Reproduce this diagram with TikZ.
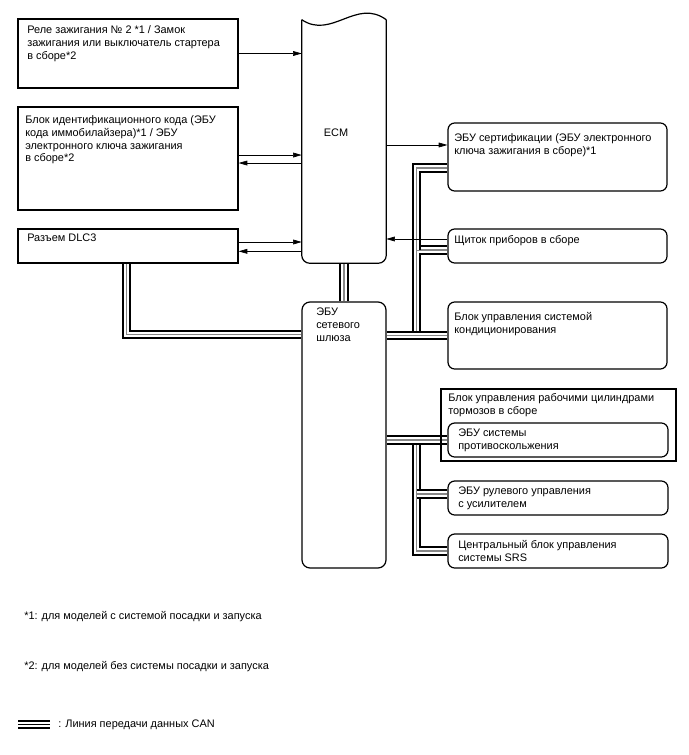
\documentclass[tikz,border=0pt]{standalone}
\usepackage{fontspec}
\setmainfont{Liberation Sans}
\usepackage{tikz}
\usetikzlibrary{arrows.meta, positioning, fit, calc, backgrounds}
\definecolor{canGray}{RGB}{135,135,135}

\begin{document}
\begin{tikzpicture}[
    font=\fontsize{8.2}{9.7}\selectfont, x=0.75pt, y=-0.75pt,
    sqbox/.style={draw, line width=0.9pt, inner sep=0pt},
    rbox/.style={sqbox, rounded corners=5pt},
    txt/.style={anchor=north west, align=left, inner sep=0pt},
    sig/.style={line width=0.5pt, -{Triangle[length=6.5pt, width=3.6pt]}},
    can/.style={draw=canGray, line width=1pt,
                preaction={draw=black, line width=7pt},
                preaction={draw=white, line width=4pt}},
    canKey/.style={can, draw=black, line width=1.2pt}
]
\useasboundingbox (0,0) rectangle (688,755);

% left column
\node[sqbox, fit={(18,19) (238,88)}] (relay) {};
\node[txt] (relayT) at (27,25) {Реле зажигания № 2 *1 / Замок\\зажигания или выключатель стартера\\в сборе*2};
\node[sqbox, fit={(18,107) (238,210)}] (immo) {};
\node[txt] (immoT) at (25,115) {Блок идентификационного кода (ЭБУ\\кода иммобилайзера)*1 / ЭБУ\\электронного ключа зажигания\\в сборе*2};
\node[sqbox, fit={(18,229) (238,263)}] (dlc) {};
\node[txt] (dlcT) at (27,234) {Разъем DLC3};

% ECM and gateway
\node[inner sep=0pt, fit={(302,20) (386,263)}] (ecm) {};
\draw[line width=0.9pt, rounded corners=6pt]
    (ecm.north west) -- (ecm.south west) -- (ecm.south east) -- (ecm.north east);
\draw[line width=0.9pt]
    (ecm.north west) .. controls +(30,20) and +(-30,-22) .. (ecm.north east);
\node (ecmT) at (336,133) {ECM};
\node[rbox, rounded corners=6pt, fit={(302,302) (386,568)}] (gw) {};
\node[txt] (gwT) at (316,308) {ЭБУ\\сетевого\\шлюза};

% right column
\node[rbox, fit={(448,123) (667,191)}] (cert) {};
\node[txt] (certT) at (454,133) {ЭБУ сертификации (ЭБУ электронного\\ключа зажигания в сборе)*1};
\node[rbox, fit={(448,229) (667,263)}] (meter) {};
\node[txt] (meterT) at (454,235) {Щиток приборов в сборе};
\node[rbox, fit={(448,302) (667,369)}] (ac) {};
\node[txt] (acT) at (454,312) {Блок управления системой\\кондиционирования};
\node[sqbox, fit={(441,389) (676,461)}] (brake) {};
\node[txt] (brakeT) at (448,393) {Блок управления рабочими цилиндрами\\тормозов в сборе};
\node[rbox, fit={(448,423) (668,457)}] (skid) {};
\node[txt] (skidT) at (458,429) {ЭБУ системы\\противоскольжения};
\node[rbox, fit={(448,481) (668,515)}] (eps) {};
\node[txt] (epsT) at (458,487) {ЭБУ рулевого управления\\с усилителем};
\node[rbox, fit={(448,534) (668,568)}] (srs) {};
\node[txt] (srsT) at (458,540) {Центральный блок управления\\системы SRS};

% signal lines
\draw[sig] (relay.east) -- (relay.east -| ecm.west);
\draw[sig] ([yshift=2.6pt]immo.east) -- ([yshift=2.6pt]immo.east -| ecm.west);
\draw[sig] ([yshift=-3.4pt]immo.east -| ecm.west) -- ([yshift=-3.4pt]immo.east);
\draw[sig] ([yshift=3pt]dlc.east) -- ([yshift=3pt]dlc.east -| ecm.west);
\draw[sig] ([yshift=-4pt]dlc.east -| ecm.west) -- ([yshift=-4pt]dlc.east);
\draw[sig] ([yshift=9pt]cert.west -| ecm.east) -- ([yshift=9pt]cert.west);
\draw[sig] ([yshift=5.25pt]meter.west) -- ([yshift=5.25pt]meter.west -| ecm.east);

% CAN lines
\coordinate (busA) at ($(gw.east |- ac.west)+(30,0)$);
\coordinate (busB) at ($(gw.east |- skid.west)+(30,0)$);
\begin{scope}[on background layer]
\draw[can] ([xshift=-1.2pt]dlc.south) |- ($(gw.north west)+(0,33)$);
\draw[can] (ecm.south) -- (gw.north);
\draw[can] (busA) |- ([yshift=-3pt]meter.west);
\draw[can] ([yshift=-3pt]meter.west -| busA) |- ([yshift=-8.25pt]cert.west);
\draw[can] (gw.east |- ac.west) -- (ac.west);
\draw[can] (busB) |- (srs.west);
\draw[can] ([yshift=3pt]eps.west -| busB) -- ([yshift=3pt]eps.west);
\draw[can] (gw.east |- skid.west) -- (skid.west);
\end{scope}

% notes
\node[anchor=west, inner sep=0pt] (note1) at (24,617) {*1: для моделей с системой посадки и запуска};
\node[anchor=west, inner sep=0pt] (note2) at (24,667) {*2: для моделей без системы посадки и запуска};
\draw[canKey] (18,724.5) -- (50,724.5);
\node[anchor=west, inner sep=0pt] (keyT) at (58,725) {: Линия передачи данных CAN};
\end{tikzpicture}
\end{document}
